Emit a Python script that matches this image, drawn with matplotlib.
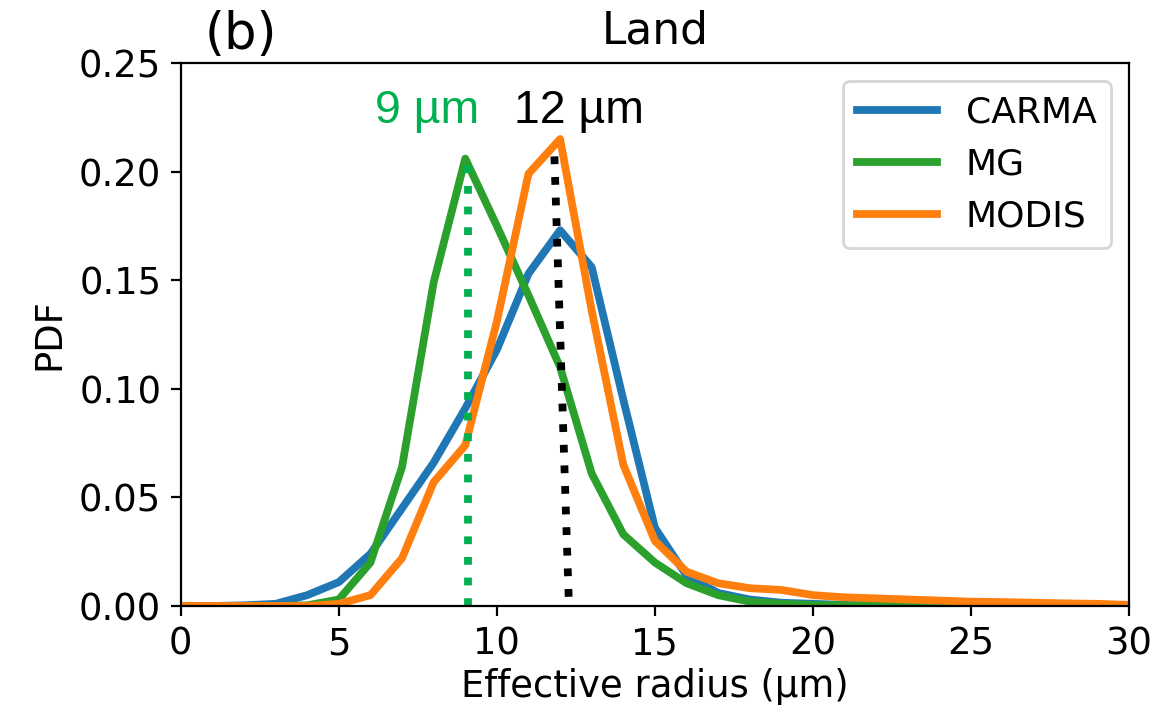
import numpy as np
from matplotlib import pyplot as plt

# effective radius bins (um)
r = np.arange(0, 31)

carma = [0, 0, 0.0003, 0.001, 0.005, 0.011, 0.024, 0.045, 0.066, 0.091, 0.118,
         0.153, 0.173, 0.156, 0.095, 0.036, 0.014, 0.006, 0.003, 0.0015, 0.001,
         0.0005, 0.0003, 0.0002, 0.0001, 0.0001, 0, 0, 0, 0, 0]
mg = [0, 0, 0, 0, 0.0003, 0.003, 0.020, 0.064, 0.149, 0.206, 0.175,
      0.143, 0.110, 0.061, 0.033, 0.020, 0.0105, 0.005, 0.002, 0.001, 0.0005,
      0.0003, 0.0002, 0.0001, 0.0001, 0, 0, 0, 0, 0, 0]
modis = [0, 0, 0, 0, 0, 0.001, 0.005, 0.022, 0.057, 0.074, 0.131,
         0.199, 0.215, 0.136, 0.065, 0.030, 0.0158, 0.0105, 0.0082, 0.0074, 0.005,
         0.004, 0.0035, 0.003, 0.0025, 0.002, 0.0018, 0.0015, 0.0012, 0.001, 0.0005]

mg_mode = 9.1
modis_line_x = [11.82, 12.28]
modis_line_y = [0.207, 0.0]

green2 = '#00b050'

fig = plt.figure(figsize=(5.87, 3.605), dpi=200)
ax = fig.add_axes([0.154, 0.1595, 0.8077, 0.7531])

ax.plot(r, carma, color='tab:blue', lw=2.8, label='CARMA')
ax.plot(r, mg, color='tab:green', lw=2.8, label='MG')
ax.plot(r, modis, color='tab:orange', lw=2.8, label='MODIS')

ax.plot([mg_mode, mg_mode], [0, 0.206], ls=':', color=green2, lw=2.8)
ax.plot(modis_line_x, modis_line_y, ls=':', color='k', lw=2.8)

ax.text(7.78, 0.2224, '9 \u00b5m', color=green2, ha='center', va='baseline',
        fontsize=16.7, family='Liberation Sans')
ax.text(12.6, 0.2224, '12 \u00b5m', color='k', ha='center', va='baseline',
        fontsize=16.7, family='Liberation Sans')

ax.set_xlim(0, 30)
ax.set_ylim(0, 0.25)
ax.set_xticks([0, 5, 10, 15, 20, 25, 30])
ax.set_yticks([0, 0.05, 0.10, 0.15, 0.20, 0.25])
ax.set_yticklabels(['0.00', '0.05', '0.10', '0.15', '0.20', '0.25'])
ax.tick_params(labelsize=13.3)
ax.set_xlabel('Effective radius (\u00b5m)', fontsize=13.3, labelpad=2)
ax.set_ylabel('PDF', fontsize=13.3)
ax.set_title('Land', fontsize=15.8, pad=7)
ax.text(0.025, 1.025, '(b)', transform=ax.transAxes, fontsize=18.5)

ax.legend(loc='upper right', fontsize=13, handlelength=2.2)

plt.savefig('out.png', dpi=200)
